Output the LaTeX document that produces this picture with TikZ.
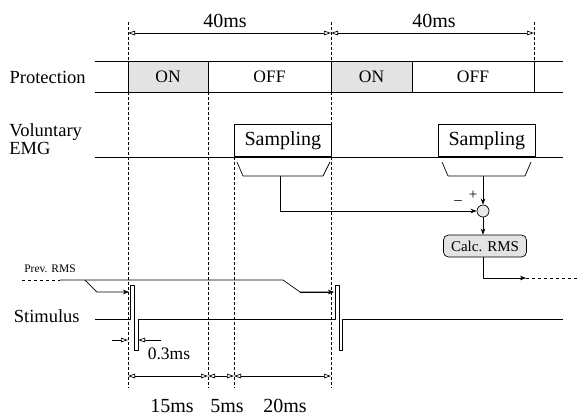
\documentclass[tikz,border=0pt]{standalone}
\usepackage{fontspec}
\setmainfont{Liberation Serif}
\usetikzlibrary{arrows.meta,positioning}

\newcommand{\fs}[1]{\fontsize{#1}{#1}\selectfont}

\begin{document}
\begin{tikzpicture}[x=1pt,y=-1pt,>=Stealth,line join=round,line width=0.7pt,
    lbl/.style={font=\fs{18.5},inner sep=0pt},
    onbox/.style={draw,fill=gray!22,minimum height=31pt,inner sep=0pt,font=\fs{17.5}},
    offbox/.style={draw,fill=white,minimum height=31pt,inner sep=0pt,font=\fs{17.5}},
    sampbox/.style={draw,fill=white,minimum width=97pt,minimum height=32pt,inner sep=0pt,font=\fs{20}},
    calcbox/.style={draw,fill=gray!22,rounded corners=5pt,minimum width=83pt,minimum height=22pt,inner sep=0pt,font=\fs{15}},
    sumpt/.style={draw,circle,fill=gray!18,minimum size=12pt,inner sep=0pt},
    guide/.style={densely dashed,line width=0.6pt},
    dimarr/.style={line width=0.7pt,{Triangle[open,length=7pt,width=4.5pt]}-{Triangle[open,length=7pt,width=4.5pt]}},
    dimtip/.style={line width=0.7pt,-{Triangle[open,length=7pt,width=4.5pt]}},
    dimlbl/.style={font=\fs{20},inner sep=0pt}]
  \useasboundingbox (0,0) rectangle (580,416);

  % guide lines
  \draw[guide] (128,22) -- (128,388);
  \draw[guide] (208,92) -- (208,388);
  \draw[guide] (234,157) -- (234,388);
  \draw[guide] (331,22) -- (331,388);
  \draw[guide] (534,22) -- (534,61);

  % period
  \draw[dimarr] (128,33) -- (331,33);
  \draw[dimarr] (331,33) -- (534,33);
  \node[dimlbl] (per1) at (225,21) {40ms};
  \node[dimlbl] (per2) at (434,21) {40ms};

  % protection
  \node[lbl,anchor=east] (prot) at (86,77) {Protection};
  \draw (95,61) -- (563,61);
  \draw (95,92) -- (563,92);
  \node[onbox,minimum width=80pt] (on1) at (168,76.5) {ON};
  \node[offbox,minimum width=123pt] (off1) at (269.5,76.5) {OFF};
  \node[onbox,minimum width=81pt] (on2) at (371.5,76.5) {ON};
  \node[offbox,minimum width=122pt] (off2) at (473,76.5) {OFF};

  % voluntary EMG
  \node[lbl,anchor=base west] (vol) at (9,136) {Voluntary};
  \node[lbl,anchor=base west] (emg) at (9,154) {EMG};
  \draw (95,157) -- (563,157);
  \node[sampbox,anchor=south west] (samp1) at (234,157) {Sampling};
  \node[sampbox,anchor=south west] (samp2) at (438,157) {Sampling};
  \draw (237,162) -- (243,176) -- (323,176) -- (330,162);
  \draw (442,162) -- (448,176) -- (525,176) -- (531,162);
  \coordinate (br1) at (280,176);
  \coordinate (br2) at (483,176);

  \node[sumpt] (sum) at (483,211) {};
  \node[font=\fs{15},inner sep=0pt] (plus) at (473,195) {+};
  \node[font=\fs{15},inner sep=0pt] (minus) at (458,203) {\textendash};
  \draw[->] (br2) -- (sum);
  \draw[->] (br1) |- (sum);
  \node[calcbox] (calc) at (485,246) {Calc. RMS};
  \draw[->] (sum) -- (sum |- calc.north);
  \coordinate (out) at (526,278);
  \draw[->] (483,257) |- (out);
  \draw[dashed] (out) -- (580,278);

  % previous RMS
  \node[font=\fs{11.5},inner sep=0pt] (prev) at (50,269) {Prev. RMS};
  \draw[dashed] (22,280) -- (60,280);
  \draw (60,280) -- (283,280) -- (300,292) -- (333,292);
  \draw[->] (300,292) -- (334,292);
  \draw[->] (85,280) -- (97,292) -- (129,292);

  % stimulus
  \node[lbl,anchor=east] (stim) at (80,316) {Stimulus};
  \draw[line width=0.9pt] (95,319) -- (130,319) -- (130,285) -- (134,285) -- (134,350)
    -- (138,350) -- (138,319) -- (335,319) -- (335,285) -- (339,285)
    -- (339,350) -- (342,350) -- (342,319) -- (563,319);

  % pulse width
  \coordinate (pwl) at (112,340);
  \coordinate (pwr) at (161,340);
  \draw[dimtip] (pwl) -- (128,340);
  \draw[dimtip] (pwr) -- (138,340);
  \node[font=\fs{17.5},inner sep=0pt] (pw) at (169,354) {0.3ms};

  % phases
  \draw[dimarr] (128,376) -- (208,376);
  \draw[dimarr] (208,376) -- (234,376);
  \draw[dimarr] (234,376) -- (331,376);
  \node[dimlbl] (ph1) at (172,406) {15ms};
  \node[dimlbl] (ph2) at (227,406) {5ms};
  \node[dimlbl] (ph3) at (285,406) {20ms};
\end{tikzpicture}
\end{document}
